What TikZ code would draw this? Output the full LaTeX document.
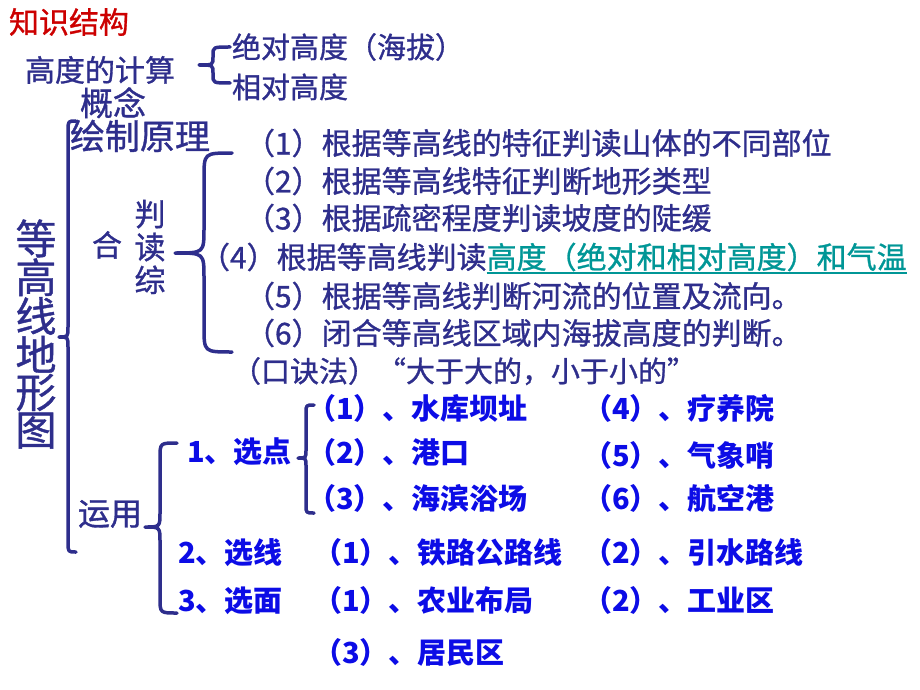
\documentclass[tikz,border=0pt]{standalone}
\usepackage{fontspec}
\setmainfont{Noto Sans CJK SC}
\newfontfamily\navfont{Noto Sans CJK SC}[FakeBold=1.0]
\definecolor{navy}{RGB}{46,46,140}
\definecolor{vblue}{RGB}{12,12,230}
\definecolor{tred}{RGB}{204,0,0}
\definecolor{teal2}{RGB}{0,150,150}
\newcommand\mybrace[8]{%
  \draw[bracestyle] (#1,#4) .. controls (#2,#4) .. (#2,#4+#7) -- (#2,#5-#8)
    .. controls (#2,#5) .. (#3,#5) .. controls (#2,#5) .. (#2,#5+#8)
    -- (#2,#6-#7) .. controls (#2,#6) .. (#1,#6);}
\begin{document}
\begin{tikzpicture}[x=1pt,y=-1pt,
  every node/.style={inner sep=0pt,outer sep=0pt,anchor=west},
  sz/.style={font=\fontsize{#1}{#1}\selectfont,text height=0.88*#1pt,text depth=0.12*#1pt},
  nav/.style={text=navy,sz=30,font=\fontsize{30}{30}\navfont},
  navs/.style={text=navy,sz=29,font=\fontsize{29}{29}\navfont},
  blu/.style={text=vblue,sz=29,font=\fontsize{29}{29}\selectfont\bfseries},
  bracestyle/.style={draw=navy,line width=3.5pt,line cap=round,line join=round}]
\useasboundingbox (0,0) rectangle (920,690);
% title
\node[text=tred,sz=30,font=\fontsize{30}{30}\navfont] (title) at (9,22) {知识结构};
% height calculation
\node[nav] (calc) at (25,70) {高度的计算};
\node[navs] (abs) at (232,47) {绝对高度（海拔）};
\node[navs] (rel) at (232,87) {相对高度};
\mybrace{230}{213}{199}{47}{65}{83}{8}{8}
% concept
\node[text=navy,sz=33,font=\fontsize{33}{33}\navfont] (concept) at (80,103) {概念};
\node[text=navy,sz=35,font=\fontsize{35}{35}\navfont] (draw) at (70,136) {绘制原理};
% big vertical title
\node[anchor=center,align=center,text=navy,font=\fontsize{41}{37.5}\navfont] (main) at (36,334) {等\\高\\线\\地\\形\\图};
\mybrace{76}{68}{59}{121}{337}{552}{10}{10}
% comprehensive reading
\node[nav] (he) at (92,245) {合};
\node[anchor=center,align=center,text=navy,font=\fontsize{31}{33}\navfont] (pdz) at (150,247) {判\\读\\综};
\mybrace{232}{204}{175}{153}{253}{352}{25}{25}
\node[nav] (i1) at (245,143) {（1）根据等高线的特征判读山体的不同部位};
\node[nav] (i2) at (245,181) {（2）根据等高线特征判断地形类型};
\node[nav] (i3) at (245,218) {（3）根据疏密程度判读坡度的陡缓};
\node[nav] (i4a) at (200,257) {（4）根据等高线判读};
\node[nav,text=teal2] (i4b) at (i4a.east) {高度（绝对和相对高度）和气温};
\draw[teal2,line width=1.6pt] ([yshift=-1pt]i4b.south west) -- ([yshift=-1pt]i4b.south east);
\node[nav] (i5) at (245,296) {（5）根据等高线判断河流的位置及流向。};
\node[nav] (i6) at (245,333) {（6）闭合等高线区域内海拔高度的判断。};
\node[navs] (kjf) at (232,371) {（口诀法）“大于大的，小于小的”};
% application
\node[text=navy,sz=32,font=\fontsize{32}{32}\navfont] (yy) at (78,513) {运用};
\mybrace{177}{160}{145}{443}{527}{613}{15}{15}
\node[blu] (xd) at (187,451) {1、选点};
\mybrace{314}{306}{298}{405}{458}{513}{8}{8}
\node[blu] (p1) at (307,408) {（1）、水库坝址};
\node[blu] (p2) at (307,452) {（2）、港口};
\node[blu] (p3) at (307,498) {（3）、海滨浴场};
\node[blu] (p4) at (583,408) {（4）、疗养院};
\node[blu] (p5) at (583,455) {（5）、气象哨};
\node[blu] (p6) at (583,498) {（6）、航空港};
\node[blu] (xx) at (178,552) {2、选线};
\node[blu] (l1) at (313,552) {（1）、铁路公路线};
\node[blu] (l2) at (583,552) {（2）、引水路线};
\node[blu] (xm) at (178,600) {3、选面};
\node[blu] (m1) at (313,600) {（1）、农业布局};
\node[blu] (m2) at (583,600) {（2）、工业区};
\node[blu] (m3) at (313,652) {（3）、居民区};
\end{tikzpicture}
\end{document}
